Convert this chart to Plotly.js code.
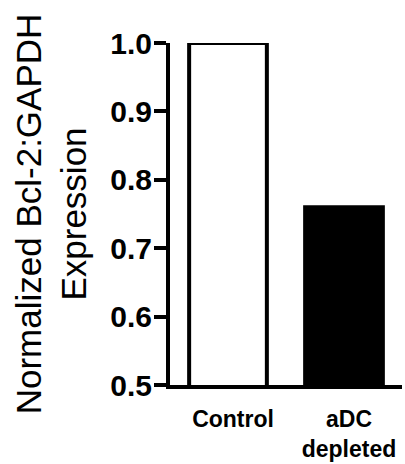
<!DOCTYPE html>
<html>
<head>
<meta charset="utf-8">
<script src="https://cdn.plot.ly/plotly-3.0.1.min.js"></script>
<style>html,body{margin:0;padding:0;background:#fff;}#chart{width:405px;height:464px;}</style>
</head>
<body>
<div id="chart"></div>
<script>
const categories = ["Control", "aDC depleted"];
const tickLabels = ["Control", "aDC<br>depleted"];
const values = [1.0, 0.76];
const barColors = ["#ffffff", "#000000"];
const yTicks = [0.5, 0.6, 0.7, 0.8, 0.9, 1.0];
const yTickLabels = ["0.5", "0.6", "0.7", "0.8", "0.9", "1.0"];

const trace = {
  type: "bar",
  x: categories,
  y: values,
  width: 0.67,
  marker: { color: barColors, line: { color: "#000000", width: 4 } },
  hoverinfo: "none"
};

const layout = {
  width: 405,
  height: 464,
  margin: { l: 170, r: 3, t: 43, b: 79 },
  paper_bgcolor: "#ffffff",
  plot_bgcolor: "#ffffff",
  showlegend: false,
  font: { family: "Liberation Sans, Arial, sans-serif", color: "#000000" },
  xaxis: {
    type: "category",
    range: [-0.5, 1.5],
    tickvals: categories,
    ticktext: tickLabels,
    showline: true,
    linecolor: "#000000",
    linewidth: 4,
    ticks: "",
    showgrid: false,
    zeroline: false,
    ticklabelshift: 5,
    ticklabelstandoff: 10,
    tickfont: { family: "Liberation Sans, Arial, sans-serif", size: 23, weight: "bold", color: "#000000" },
    fixedrange: true
  },
  yaxis: {
    range: [0.5, 1.0],
    tickvals: yTicks,
    ticktext: yTickLabels,
    showline: true,
    linecolor: "#000000",
    linewidth: 4,
    ticks: "outside",
    ticklen: 12,
    tickwidth: 4,
    tickcolor: "#000000",
    showgrid: false,
    zeroline: false,
    ticklabelstandoff: -4,
    tickfont: { family: "Liberation Sans, Arial, sans-serif", size: 30, weight: "bold", color: "#000000" },
    title: {
      text: "Normalized Bcl-2:GAPDH<br>Expression",
      font: { family: "Liberation Sans, Arial, sans-serif", size: 35, color: "#000000" },
      standoff: 14
    },
    fixedrange: true
  }
};

Plotly.newPlot("chart", [trace], layout, { displayModeBar: false, staticPlot: true });
</script>
</body>
</html>
